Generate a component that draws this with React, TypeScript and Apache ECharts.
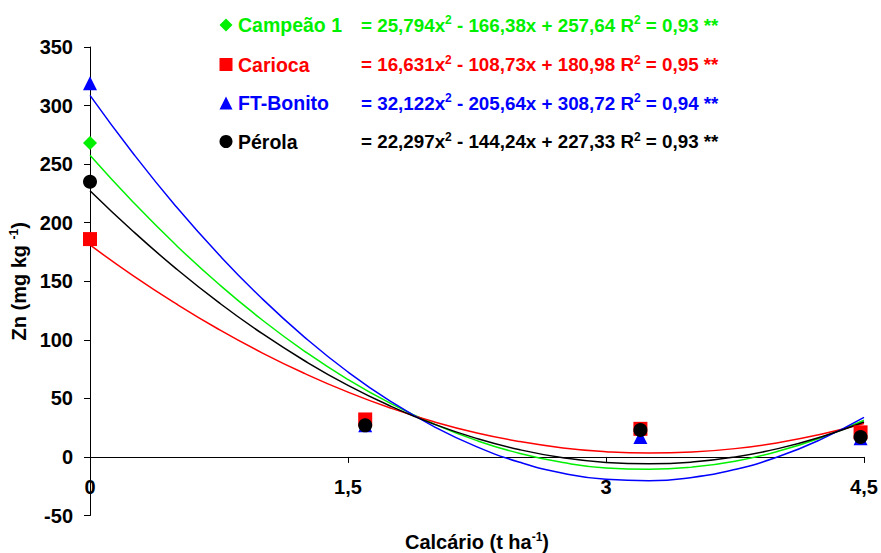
import React, { useEffect, useRef } from 'react';
import * as echarts from 'echarts';

const FONT = '"Liberation Sans", Arial, Helvetica, sans-serif';

const seriesNames = ['Campeão 1', 'Carioca', 'FT-Bonito', 'Pérola'];
const seriesColors = ['#00F000', '#FF0000', '#0000FF', '#000000'];
const seriesSymbols = ['diamond', 'rect', 'triangle', 'circle'];

// observed points
const doseX = [0, 1.6, 3.2, 4.48];
const campeaoObs = [268, 28, 22, 18];
const cariocaObs = [186, 32, 24, 21];
const ftBonitoObs = [319, 27, 17, 16];
const perolaObs = [235, 27, 23, 17];

// fitted curves
const curveX = [0, 0.25, 0.5, 0.75, 1, 1.25, 1.5, 1.75, 2, 2.25, 2.5, 2.75, 3, 3.25, 3.5, 3.75, 4, 4.25, 4.5];
const campeaoFit = [257.6, 217.7, 180.9, 147.4, 117.1, 90.0, 66.1, 45.5, 28.1, 13.9, 2.9, -4.8, -9.4, -10.6, -8.7, -3.6, 4.8, 16.4, 31.3];
const cariocaFit = [181.0, 154.8, 130.8, 108.8, 88.9, 71.1, 55.3, 41.6, 30.0, 20.5, 13.1, 7.7, 4.5, 3.3, 4.2, 7.1, 12.2, 19.3, 28.5];
const ftBonitoFit = [308.7, 259.3, 213.9, 172.6, 135.2, 101.9, 72.5, 47.2, 25.9, 8.6, -4.6, -13.9, -19.1, -20.3, -17.5, -10.7, 0.1, 15.0, 33.8];
const perolaFit = [227.3, 192.7, 160.8, 131.7, 105.4, 81.9, 61.1, 43.2, 28.0, 15.7, 6.1, -0.7, -4.7, -5.9, -4.4, 0.0, 7.1, 17.1, 29.8];

// equation texts
const eqA = ['25,794', '16,631', '32,122', '22,297'];
const eqB = ['166,38', '108,73', '205,64', '144,24'];
const eqC = ['257,64', '180,98', '308,72', '227,33'];
const eqR2 = ['0,93', '0,95', '0,94', '0,93'];

const xTickLabels = ['0', '1,5', '3', '4,5'];
const yTickLabels = ['-50', '0', '50', '100', '150', '200', '250', '300', '350'];

const obsList = [campeaoObs, cariocaObs, ftBonitoObs, perolaObs];
const fitList = [campeaoFit, cariocaFit, ftBonitoFit, perolaFit];

export default function App() {
  const ref = useRef<HTMLDivElement>(null);
  useEffect(() => {
    if (!ref.current) return;
    const chart = echarts.init(ref.current, null, { renderer: 'svg' });

    const lineSeries = fitList.map((fit, i) => ({
      type: 'line',
      name: seriesNames[i] + ' fit',
      data: curveX.map((x, j) => [x, fit[j]]),
      showSymbol: false,
      smooth: true,
      z: 2,
      lineStyle: { color: seriesColors[i], width: 1.5 },
    }));
    const scatterSeries = obsList.map((obs, i) => ({
      type: 'scatter',
      name: seriesNames[i],
      data: doseX.map((x, j) => [x, obs[j]]),
      symbol: seriesSymbols[i],
      symbolSize: 14,
      z: 3,
      itemStyle: { color: seriesColors[i], opacity: 1 },
    }));

    const rowY = [25, 64.5, 103, 141.5];
    const mx = 226;
    const ms = 6.5;
    const graphics: any[] = [];
    rowY.forEach((y, i) => {
      const color = seriesColors[i];
      let shape: any;
      if (i === 0) {
        shape = { type: 'polygon', shape: { points: [[mx, y - ms], [mx + ms, y], [mx, y + ms], [mx - ms, y]] }, style: { fill: color } };
      } else if (i === 1) {
        shape = { type: 'rect', shape: { x: mx - ms, y: y - ms, width: 2 * ms, height: 2 * ms }, style: { fill: color } };
      } else if (i === 2) {
        shape = { type: 'polygon', shape: { points: [[mx, y - ms], [mx + ms, y + ms], [mx - ms, y + ms]] }, style: { fill: color } };
      } else {
        shape = { type: 'circle', shape: { cx: mx, cy: y, r: ms }, style: { fill: color } };
      }
      graphics.push(shape);
      graphics.push({
        type: 'text',
        x: 238,
        y: y,
        style: {
          text: seriesNames[i],
          fill: color,
          font: `bold 19.5px ${FONT}`,
          verticalAlign: 'middle',
          align: 'left',
        },
      });
      graphics.push({
        type: 'text',
        x: 361,
        y: y,
        style: {
          text: `{e|= ${eqA[i]}x}{s|2}{e| - ${eqB[i]}x + ${eqC[i]} R}{s|2}{e| = ${eqR2[i]} **}`,
          fill: color,
          verticalAlign: 'middle',
          align: 'left',
          rich: {
            e: { fill: color, fontSize: 18.8, fontWeight: 'bold', fontFamily: FONT, lineHeight: 22, verticalAlign: 'middle' },
            s: { fill: color, fontSize: 12, fontWeight: 'bold', fontFamily: FONT, lineHeight: 22, verticalAlign: 'top' },
          },
        },
      });
    });

    chart.setOption({
      animation: false,
      grid: { left: 90, right: 17, top: 47, bottom: 37.5, containLabel: false, outerBoundsMode: 'none' },
      xAxis: {
        type: 'value',
        min: 0,
        max: 4.5,
        interval: 1.5,
        splitLine: { show: false },
        axisLine: { onZero: true, lineStyle: { color: '#000', width: 1 } },
        axisTick: { show: true, length: 6, lineStyle: { color: '#000' } },
        axisLabel: {
          margin: -39,
          fontSize: 20,
          fontWeight: 'bold',
          fontFamily: FONT,
          color: '#000',
          formatter: (v: number, idx: number) => xTickLabels[idx] ?? String(v),
        },
        name: '{t|Calcário (t ha}{s|-1}{t|)}',
        nameLocation: 'middle',
        nameGap: 15,
        nameTextStyle: {
          rich: {
            t: { fontSize: 20, fontWeight: 'bold', fontFamily: FONT, color: '#000', lineHeight: 22, verticalAlign: 'middle' },
            s: { fontSize: 12, fontWeight: 'bold', fontFamily: FONT, color: '#000', lineHeight: 22, verticalAlign: 'top' },
          },
        },
      },
      yAxis: {
        type: 'value',
        min: -50,
        max: 350,
        interval: 50,
        splitLine: { show: false },
        axisLine: { show: true, onZero: false, lineStyle: { color: '#000', width: 1 } },
        axisTick: { show: true, length: 6, lineStyle: { color: '#000' } },
        axisLabel: {
          margin: 17,
          fontSize: 20,
          fontWeight: 'bold',
          fontFamily: FONT,
          color: '#000',
          formatter: (v: number, idx: number) => yTickLabels[idx] ?? String(v),
        },
        name: '{t|Zn (mg kg }{s|-1}{t|)}',
        nameLocation: 'middle',
        nameGap: 55,
        nameRotate: 90,
        nameTextStyle: {
          rich: {
            t: { fontSize: 20, fontWeight: 'bold', fontFamily: FONT, color: '#000', lineHeight: 22, verticalAlign: 'middle' },
            s: { fontSize: 12, fontWeight: 'bold', fontFamily: FONT, color: '#000', lineHeight: 22, verticalAlign: 'top' },
          },
        },
      },
      series: [...lineSeries, ...scatterSeries],
      graphic: graphics,
    });
    return () => chart.dispose();
  }, []);
  return <div ref={ref} style={{ width: 881, height: 553, position: 'absolute', left: 0, top: 0 }} />;
}
